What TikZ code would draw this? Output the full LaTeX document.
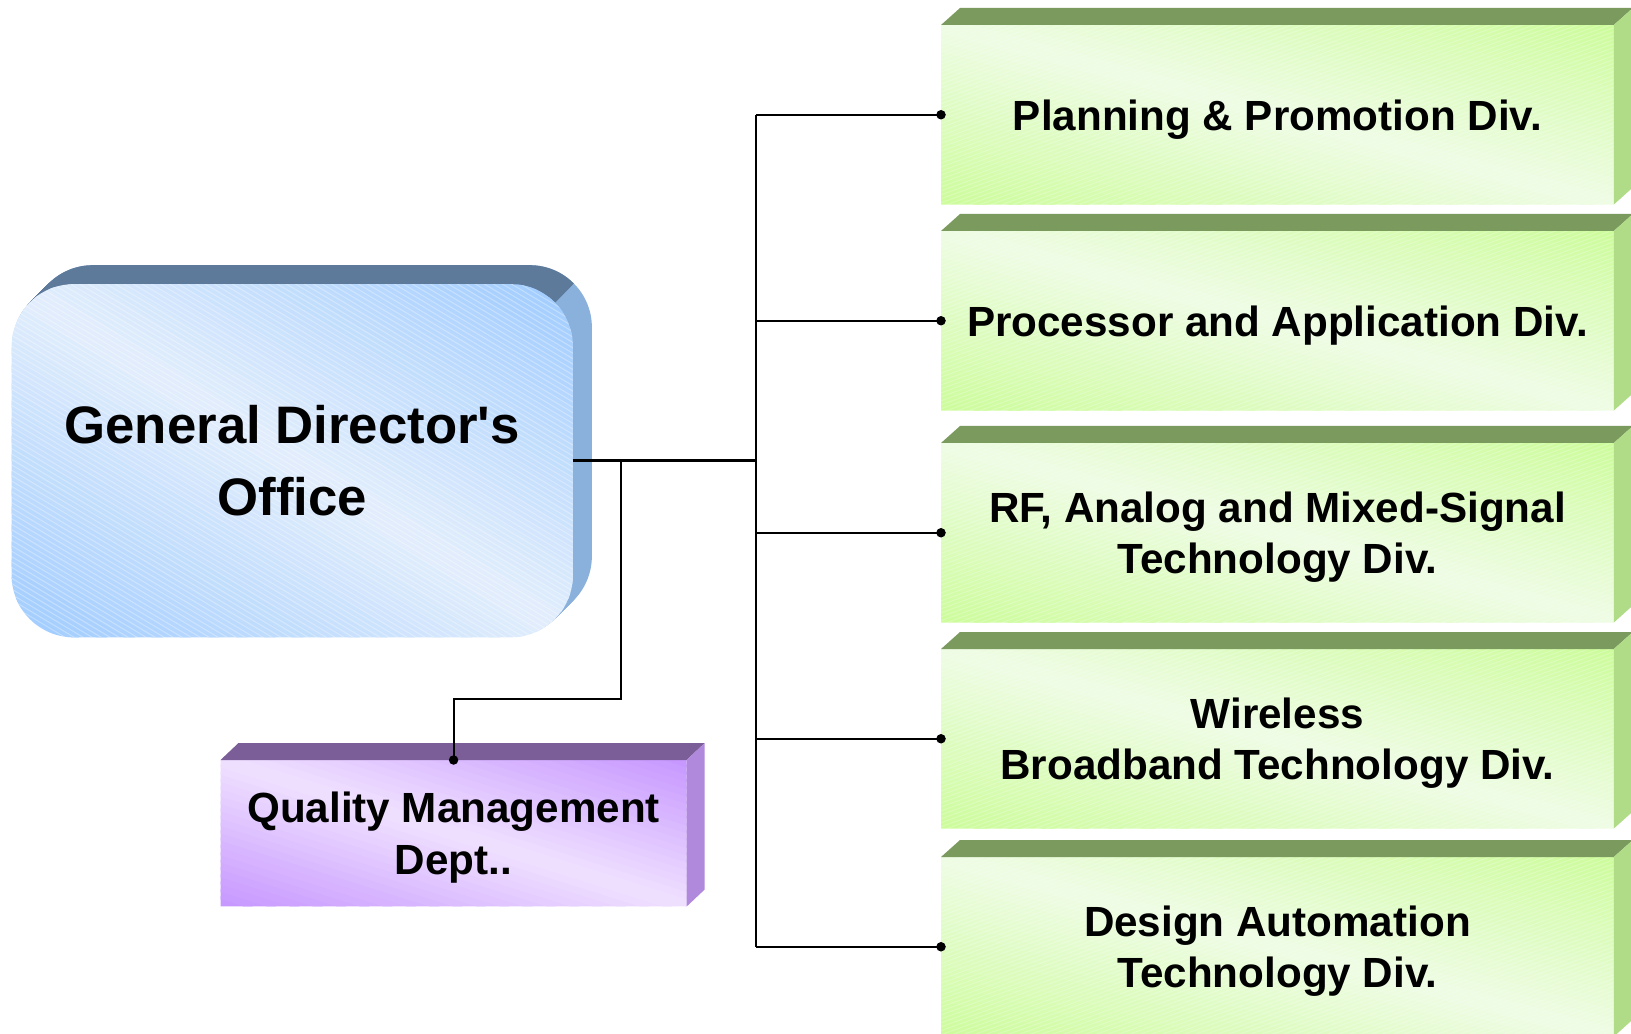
\documentclass[tikz,border=0pt]{standalone}
\usepackage{fontspec}
\setmainfont{Liberation Sans}
\usetikzlibrary{calc}
\pgfdeclarelayer{background}
\pgfsetlayers{background,main}
\definecolor{gTop}{RGB}{123,154,94}
\definecolor{gSide}{RGB}{176,220,136}
\definecolor{gSat}{RGB}{204,252,154}
\definecolor{gLight}{RGB}{238,252,228}
\definecolor{bTop}{RGB}{94,122,154}
\definecolor{bSide}{RGB}{138,176,220}
\definecolor{bSat}{RGB}{158,203,255}
\definecolor{bLight}{RGB}{226,238,252}
\definecolor{pTop}{RGB}{123,94,152}
\definecolor{pSide}{RGB}{176,136,220}
\definecolor{pSat}{RGB}{198,150,255}
\definecolor{pLight}{RGB}{240,225,255}
% corner-to-corner diagonal gradient over the box of node #1
\newcommand\gradfill[3]{%
  \foreach \i in {0,...,39}{%
    \pgfmathsetmacro\sa{\i/20}%
    \pgfmathsetmacro\sb{(\i+1)/20+0.02}%
    \pgfmathtruncatemacro\pc{abs(\i+0.5-20)*5}%
    \fill[#2!\pc!#3] ($(#1.south west)!\sa!(#1.south east)$)
      -- ($(#1.south west)!\sb!(#1.south east)$)
      -- ($(#1.south west)!\sb!(#1.north west)$)
      -- ($(#1.south west)!\sa!(#1.north west)$) -- cycle;}}
\newcommand\greenhatch[1]{%
  \foreach \k in {-500,-489,...,680}
    \draw[white, opacity=0.22, line width=0.3pt]
      ($(#1.south west)+(\k,0)$) -- ++(700,-252);}
\newcommand\bluehatch{%
  \foreach \k in {-610,-601,...,580}
    \draw[white, opacity=0.3, line width=0.3pt] (\k,270) -- ++(1000,600);}
\begin{document}
\begin{tikzpicture}[x=0.01cm,y=-0.01cm,
  divbox/.style={minimum width=6.71cm, minimum height=1.78cm, inner sep=0pt,
    anchor=north west, align=center, text depth=0pt,
    font=\fontsize{12}{14.7}\selectfont\bfseries},
  gdbox/.style={minimum width=5.595cm, minimum height=3.515cm, inner sep=0pt,
    rounded corners=0.62cm, align=center, text depth=0pt,
    font=\fontsize{15}{20.4}\selectfont\bfseries,
    execute at begin node={\rule{0pt}{14pt}}},
  qmbox/.style={minimum width=4.645cm, minimum height=1.45cm, inner sep=0pt,
    anchor=north west, align=center, text depth=0pt,
    font=\fontsize{12}{15}\selectfont\bfseries,
    execute at begin node={\rule{0pt}{9.95pt}}},
  conn/.style={draw=black, line width=0.6pt},
  mainconn/.style={draw=black, line width=0.9pt},
  jdot/.style={fill=black}
]
\useasboundingbox (0,0) rectangle (1631,1034);

% ---- nodes (text) ----
\node[gdbox] (gd) at (292.25,460.75) {General Director\textquotesingle s\\Office};
\node[divbox] (d1) at (941,25) {Planning \& Promotion Div.};
\node[divbox] (d2) at (941,231) {Processor and Application Div.};
\node[divbox] (d3) at (941,443) {RF, Analog and Mixed-Signal\\Technology Div.};
\node[divbox] (d4) at (941,649) {Wireless\\Broadband Technology Div.};
\node[divbox] (d5) at (941,857) {Design Automation\\Technology Div.};
\node[qmbox] (qm) at (220.5,760) {Quality Management\\Dept..};

% ---- box bodies, behind the text ----
\begin{pgfonlayer}{background}
  % General Director's Office: rounded extruded block
  \foreach \t in {1,...,19}
    \fill[bSide, rounded corners=0.62cm] ($(gd.south west)+(\t,-\t)$) rectangle ($(gd.north east)+(\t,-\t)$);
  \begin{scope}
    \clip (0,150) -- (707,150) -- (510,347) -- (0,347) -- cycle;
    \foreach \t in {1,...,19}
      \fill[bTop, rounded corners=0.62cm] ($(gd.south west)+(\t,-\t)$) rectangle ($(gd.north east)+(\t,-\t)$);
  \end{scope}
  \begin{scope}
    \clip[rounded corners=0.62cm] (gd.south west) rectangle (gd.north east);
    \gradfill{gd}{bSat}{bLight}
    \bluehatch
  \end{scope}
  % division boxes
  \foreach \b in {d1,d2,d3,d4,d5} {
    \begin{scope}
      \clip (\b.south west) rectangle (\b.north east);
      \gradfill{\b}{gSat}{gLight}
      \greenhatch{\b}
    \end{scope}
    \fill[gTop] (\b.north west) -- ++(19,-17) -- ($(\b.north east)+(19,-17)$) -- (\b.north east) -- cycle;
    \fill[gSide] (\b.north east) -- ++(19,-17) -- ($(\b.south east)+(19,-17)$) -- (\b.south east) -- cycle;
  }
  % quality management box
  \begin{scope}
    \clip (qm.south west) rectangle (qm.north east);
    \gradfill{qm}{pSat}{pLight}
  \end{scope}
  \fill[pTop] (qm.north west) -- ++(18,-17) -- ($(qm.north east)+(18,-17)$) -- (qm.north east) -- cycle;
  \fill[pSide] (qm.north east) -- ++(18,-17) -- ($(qm.south east)+(18,-17)$) -- (qm.south east) -- cycle;
\end{pgfonlayer}

% ---- connectors ----
\coordinate (trunk) at (756,460.75);
\coordinate (qj) at (621,460.75);
\coordinate (qbend) at (621,699);
\draw[mainconn] (gd.east) -- (trunk);
\draw[conn] (d1.west -| trunk) -- (d5.west -| trunk);
\foreach \b in {d1,d2,d3,d4,d5} {
  \draw[conn] (\b.west -| trunk) -- (\b.west);
  \fill[jdot] (\b.west) circle[radius=1.35pt];
}
\draw[conn] (qj) -- (qbend) -| (qm.north);
\fill[jdot] (qm.north) circle[radius=1.35pt];
\end{tikzpicture}
\end{document}
